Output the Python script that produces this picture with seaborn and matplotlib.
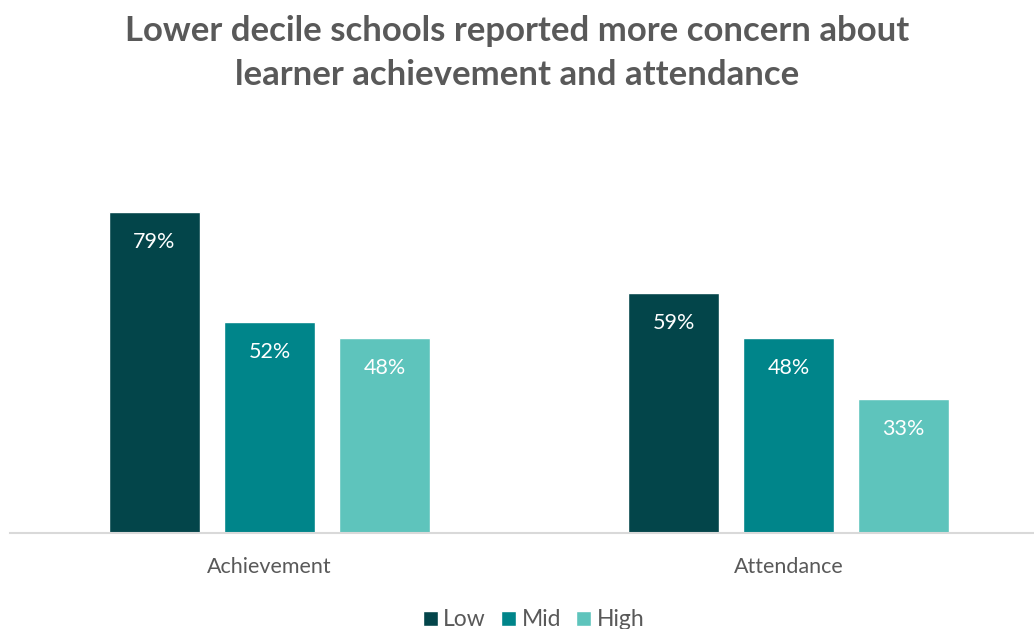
import matplotlib
matplotlib.use("Agg")
import matplotlib.pyplot as plt
import seaborn as sns
import pandas as pd

categories = ["Achievement", "Attendance"]
deciles = ["Low", "Mid", "High"]
low_values = [79, 59]
mid_values = [52, 48]
high_values = [48, 33]

palette = {"Low": "#03454A", "Mid": "#00858A", "High": "#5EC4BC"}
text_grey = "#595959"

rows = []
for decile, vals in zip(deciles, [low_values, mid_values, high_values]):
    for cat, v in zip(categories, vals):
        rows.append({"Measure": cat, "Decile": decile, "Percent": v})
df = pd.DataFrame(rows)

sns.set_theme(style="white")
plt.rcParams["font.family"] = ["Lato", "DejaVu Sans"]

fig = plt.figure(figsize=(10.34, 6.29), dpi=100)
ax = fig.add_axes([10 / 1034, 0.152, 1023 / 1034, 0.5825])

sns.barplot(data=df, x="Measure", y="Percent", hue="Decile", hue_order=deciles,
            order=categories, palette=palette, width=0.665, gap=0.21,
            saturation=1, ax=ax, legend=True)

ax.set_xlim(-0.5, 1.471)
ax.set_ylim(0, 90)
ax.set_xlabel("")
ax.set_ylabel("")
ax.set_yticks([])
ax.tick_params(axis="x", length=0, labelsize=15.5, colors=text_grey, pad=17)
for side in ["left", "right", "top"]:
    ax.spines[side].set_visible(False)
ax.spines["bottom"].set_color("#D9D9D9")
ax.spines["bottom"].set_linewidth(1.5)

for container in ax.containers:
    ax.bar_label(container, labels=[f"{v:.0f}%" for v in container.datavalues],
                 label_type="edge", padding=-29, color="white", fontsize=15.5)

handles, labels = ax.get_legend_handles_labels()
ax.get_legend().remove()
fig.legend(handles, labels, loc="center", bbox_to_anchor=(0.516, (629 - 620) / 629),
           ncol=3, frameon=False, fontsize=16.5, labelcolor=text_grey,
           handlelength=0.65, handleheight=0.65, handletextpad=0.25, columnspacing=0.65)

fig.suptitle("Lower decile schools reported more concern about\nlearner achievement and attendance",
             x=0.5, y=0.976, fontsize=25, fontweight="bold", color=text_grey,
             linespacing=1.45)

fig.savefig("out.png", dpi=100, facecolor="white")
